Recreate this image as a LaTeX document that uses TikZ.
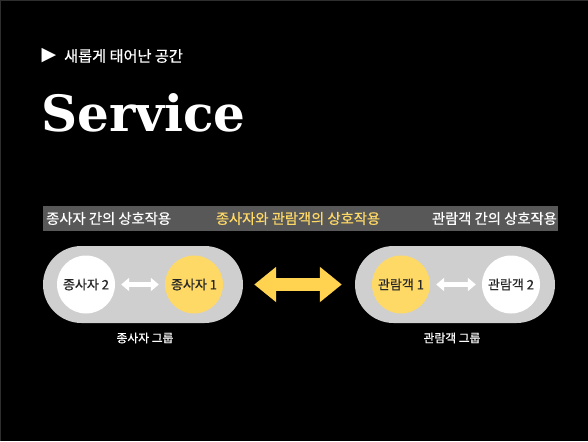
\documentclass[tikz,border=0pt]{standalone}
\usepackage{fontspec}
\setmainfont{DejaVu Serif}
\newfontfamily\kr[FakeBold=0.6]{Noto Sans CJK KR}
\newfontfamily\sym{DejaVu Sans}
\usetikzlibrary{arrows.meta, positioning}

\definecolor{softyellow}{HTML}{FFD966}
\definecolor{arrowyellow}{HTML}{FFD24F}
\definecolor{bandgrey}{HTML}{585858}
\definecolor{pillgrey}{HTML}{CFCFCF}
\definecolor{edgegrey}{HTML}{2E2E2E}

\begin{document}
\begin{tikzpicture}[
    x=1pt, y=-1pt,
    pill/.style={rectangle, fill=pillgrey, rounded corners=38.5pt, minimum width=200pt, minimum height=77pt},
    person/.style={circle, minimum size=58pt, inner sep=0pt, font=\kr\fontsize{13}{15}\selectfont, text=black!85},
    member/.style={person, fill=white},
    lead/.style={person, fill=softyellow},
    bandtext/.style={font=\kr\fontsize{14.3}{16}\selectfont, inner sep=0pt},
    grouplabel/.style={font=\kr\fontsize{11.8}{13}\selectfont, text=white, inner sep=0pt},
    smallarrow/.style={draw=white, line width=4.5pt, {Triangle[width=13pt,length=8pt]}-{Triangle[width=13pt,length=8pt]}, shorten <=6pt, shorten >=6pt},
    bigarrow/.style={draw=arrowyellow, line width=13pt, {Triangle[width=34pt,length=22pt]}-{Triangle[width=34pt,length=22pt]}}
]

% background
\fill[black] (0,0) rectangle (588,441);
\useasboundingbox (0,0) rectangle (588,441);
\draw[edgegrey, line width=1.5pt] (0,441) -- (0,0) -- (588,0);

% heading
\node[text=white, inner sep=0pt, font=\sym\fontsize{19}{20}\selectfont] (tri) at (49,56) {▶};
\node[text=white, anchor=west, inner sep=0pt, font=\kr\fontsize{15.2}{17}\selectfont] (sub) at (64,56) {새롭게 태어난 공간};
\node[text=white, anchor=base west, inner sep=0pt, font=\bfseries\fontsize{50}{56}\selectfont] (title) at (41,131) {Service};

% band
\node[rectangle, fill=bandgrey, minimum width=515pt, minimum height=25pt, inner sep=0pt] (band) at (300.5,218.5) {};
\node[bandtext, text=white, anchor=west] (staffint) at (46,218.5) {종사자 간의 상호작용};
\node[bandtext, text=softyellow] (mixint) at (298,218.5) {종사자와 관람객의 상호작용};
\node[bandtext, text=white, anchor=east] (visint) at (557,218.5) {관람객 간의 상호작용};

% groups
\node[pill] (staff) at (143,284.5) {};
\node[pill] (visit) at (455,284.5) {};
\node[member] (s2) at (86,284.5) {종사자 2};
\node[lead] (s1) at (194,284.5) {종사자 1};
\node[lead] (v1) at (401,284.5) {관람객 1};
\node[member] (v2) at (511,284.5) {관람객 2};
\node[grouplabel] (staffg) at (145,338) {종사자 그룹};
\node[grouplabel] (visitg) at (452,338) {관람객 그룹};

% connections
\draw[smallarrow] (s2) -- (s1);
\draw[smallarrow] (v1) -- (v2);
\draw[bigarrow, shorten <=11pt, shorten >=13pt] (staff.east) -- (visit.west);

\end{tikzpicture}
\end{document}
